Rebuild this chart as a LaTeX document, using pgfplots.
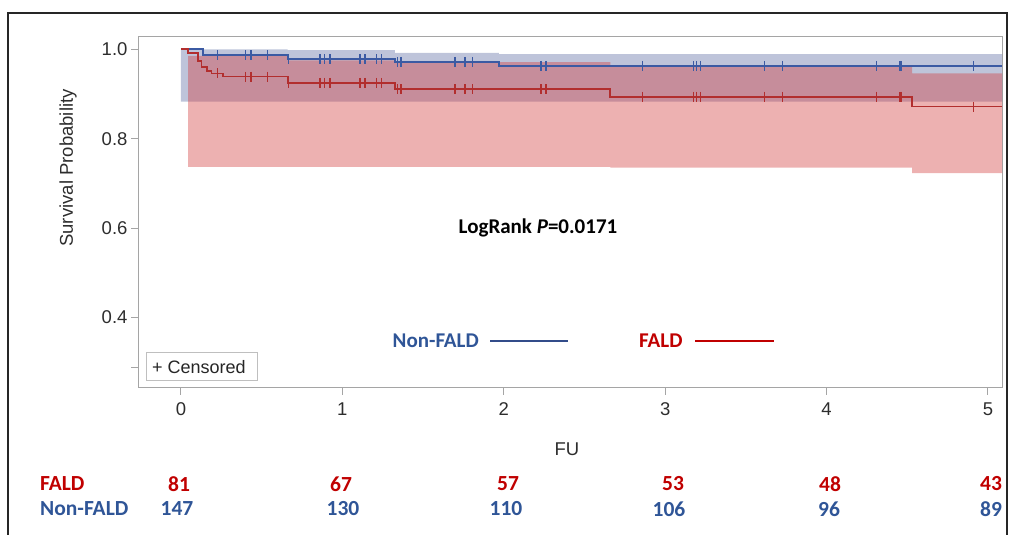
\documentclass[border=0pt]{standalone}
\usepackage{fontspec}
\setmainfont{Liberation Sans}
\newfontfamily\carlito{Carlito}
\usepackage{pgfplots}
\pgfplotsset{compat=1.18}
\definecolor{kmblue}{RGB}{59,90,163}
\definecolor{kmred}{RGB}{178,46,46}
\definecolor{bandblue}{RGB}{68,86,148}
\definecolor{bandred}{RGB}{210,60,60}
\definecolor{txtblue}{RGB}{47,85,151}
\definecolor{txtred}{RGB}{192,0,0}
\definecolor{axgray}{RGB}{165,165,165}
\definecolor{lblgray}{RGB}{45,45,45}
\begin{document}
\begin{tikzpicture}[x=1pt,y=1pt]
\useasboundingbox (0,0) rectangle (1010,535);
\draw[line width=2pt, color=black!85] (8,0) -- (8,522) -- (1007,522) -- (1007,0);
\begin{axis}[
  at={(138pt,147pt)}, anchor=south west,
  scale only axis, width=864pt, height=351pt,
  xmin=-0.266, xmax=5.087, ymin=0.2423, ymax=1.0275,
  axis line style={axgray, line width=1pt},
  every tick/.style={axgray, line width=1pt},
  tick align=outside, major tick length=7pt,
  xtick pos=bottom, ytick pos=left,
  xtick={0,1,2,3,4,5}, ytick={0.4,0.6,0.8,1.0},
  extra y ticks={0.289}, extra y tick labels={},
  /pgf/number format/assume math mode=true,
  yticklabel style={/pgf/number format/.cd, fixed, fixed zerofill, precision=1},
  xticklabel style={yshift=-4pt},
  ticklabel style={font=\fontsize{18.5}{20}\selectfont, text=lblgray},
]
% confidence bands
\addplot[draw=none, fill=bandblue, fill opacity=0.35] coordinates {
 (0,1.0) (0.661,1.0) (0.661,0.998) (1.326,0.998) (1.326,0.992) (1.97,0.992)
 (1.97,0.989) (5.087,0.989) (5.087,0.883) (0,0.883)} -- cycle;
\addplot[draw=none, fill=bandred, fill opacity=0.4] coordinates {
 (0.045,0.985) (0.663,0.985) (0.663,0.975) (1.326,0.975) (1.326,0.971)
 (2.66,0.971) (2.66,0.96) (4.53,0.96) (4.53,0.946) (5.087,0.946)
 (5.087,0.723) (4.53,0.723) (4.53,0.735) (2.66,0.735) (2.66,0.737) (0.045,0.737)} -- cycle;
% survival curves
\addplot[const plot, kmblue, line width=1.7pt] coordinates {
 (0,1.0) (0.137,0.987) (0.661,0.978) (1.326,0.972) (1.97,0.963) (5.087,0.963)};
\addplot[const plot, kmred, line width=1.7pt] coordinates {
 (0,1.0) (0.045,0.991) (0.107,0.974) (0.128,0.961) (0.161,0.952) (0.19,0.946)
 (0.26,0.939) (0.663,0.925) (1.326,0.911) (2.66,0.894) (4.53,0.872) (5.087,0.872)};
% censored marks
\addplot[only marks, mark=|, mark size=5pt, kmblue, mark options={line width=1.3pt}] coordinates {
 (0.227,0.987) (0.401,0.987) (0.434,0.987) (0.535,0.987) (0.665,0.978)
 (0.861,0.978) (0.888,0.978) (0.923,0.978) (1.109,0.978) (1.140,0.978)
 (1.212,0.978) (1.244,0.978) (1.343,0.972) (1.363,0.972) (1.698,0.972)
 (1.760,0.972) (1.805,0.972) (2.230,0.963) (2.261,0.963) (2.861,0.963)
 (3.174,0.963) (3.195,0.963) (3.220,0.963) (3.614,0.963) (3.728,0.963)
 (4.310,0.963) (4.455,0.963) (4.461,0.963) (4.909,0.963)};
\addplot[only marks, mark=|, mark size=5pt, kmred, mark options={line width=1.3pt}] coordinates {
 (0.227,0.946) (0.401,0.939) (0.434,0.939) (0.535,0.939) (0.665,0.925)
 (0.861,0.925) (0.888,0.925) (0.923,0.925) (1.109,0.925) (1.140,0.925)
 (1.212,0.925) (1.244,0.925) (1.343,0.911) (1.363,0.911) (1.698,0.911)
 (1.760,0.911) (1.805,0.911) (2.230,0.911) (2.261,0.911) (2.861,0.894)
 (3.174,0.894) (3.195,0.894) (3.220,0.894) (3.614,0.894) (3.728,0.894)
 (4.310,0.894) (4.455,0.894) (4.461,0.894) (4.909,0.872)};
\end{axis}
% axis titles
\node[rotate=90, text=lblgray, font=\fontsize{18.5}{20}\selectfont] at (68,367) {Survival Probability};
\node[text=lblgray, font=\fontsize{18.5}{20}\selectfont] at (567,86) {FU};
% log-rank annotation
\node[font=\carlito\bfseries\fontsize{21}{24}\selectfont] at (538,307) {LogRank \textit{P}=0.0171};
% legend
\node[anchor=east, text=txtblue, font=\carlito\bfseries\fontsize{21}{24}\selectfont, inner sep=1pt] at (480,194) {Non-FALD};
\draw[kmblue!85!black, line width=1.5pt] (490,194) -- (568,194);
\node[anchor=west, text=txtred, font=\carlito\bfseries\fontsize{21}{24}\selectfont, inner sep=1pt] at (638,194) {FALD};
\draw[txtred, line width=1.5pt] (695,194) -- (774,194);
% censored box
\draw[black!25, line width=1pt, fill=white] (146,154) rectangle (257,182);
\node[anchor=west, font=\fontsize{18}{20}\selectfont, text=black!85, inner sep=0pt] at (152,168) {+ Censored};
% number at risk
\begin{scope}[font=\carlito\bfseries\fontsize{21.5}{24}\selectfont]
\node[anchor=west, text=txtred, inner sep=0pt] at (40,51) {FALD};
\node[anchor=west, text=txtblue, inner sep=0pt] at (40,26) {Non-FALD};
\node[text=txtred] at (179,51) {81};
\node[text=txtred] at (341,51) {67};
\node[text=txtred] at (508,51) {57};
\node[text=txtred] at (673,51) {53};
\node[text=txtred] at (830,51) {48};
\node[text=txtred] at (991,51) {43};
\node[text=txtblue] at (177,26) {147};
\node[text=txtblue] at (343,26) {130};
\node[text=txtblue] at (506,26) {110};
\node[text=txtblue] at (669,26) {106};
\node[text=txtblue] at (829,26) {96};
\node[text=txtblue] at (991,26) {89};
\end{scope}
\end{tikzpicture}
\end{document}
